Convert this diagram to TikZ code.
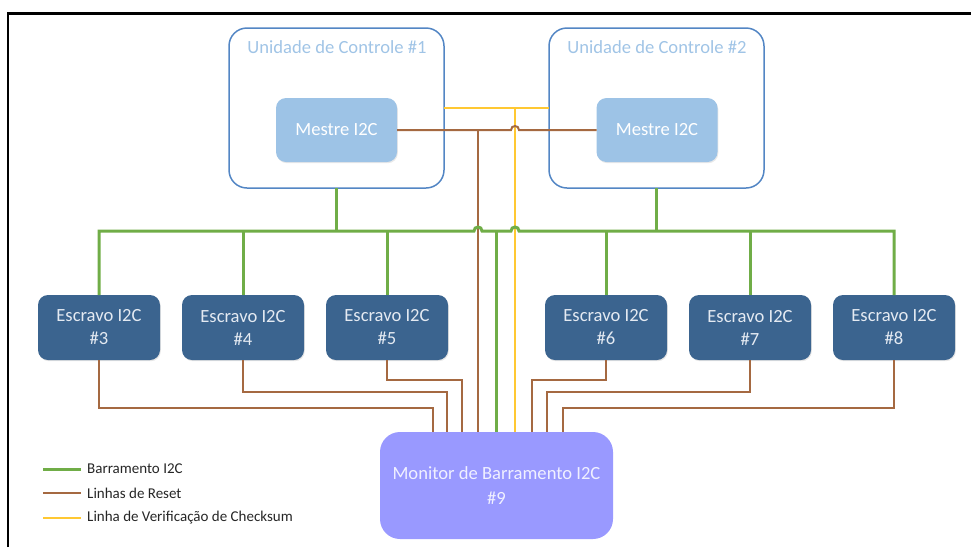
\documentclass[tikz,border=0pt]{standalone}
\usepackage{fontspec}
\setmainfont{Carlito}
\usetikzlibrary{shadows}

\definecolor{cuedge}{RGB}{83,134,196}
\definecolor{cutitle}{RGB}{160,196,230}
\definecolor{mestrefill}{RGB}{157,195,230}
\definecolor{slavefill}{RGB}{59,100,143}
\definecolor{slavetext}{RGB}{228,234,242}
\definecolor{monfill}{RGB}{153,153,255}
\definecolor{montext}{RGB}{240,240,255}
\definecolor{busgreen}{RGB}{112,173,71}
\definecolor{resetbrown}{RGB}{165,105,65}
\definecolor{chkyellow}{RGB}{255,200,50}
\definecolor{legendtext}{RGB}{38,38,38}

\begin{document}
\begin{tikzpicture}[x=1pt,y=-1pt,
  bigfont/.style={font=\fontsize{18.6}{23}\selectfont},
  unitbox/.style={draw=cuedge,line width=1.5pt,rounded corners=18pt,
    minimum width=215pt,minimum height=160pt,inner sep=0pt,outer sep=0pt},
  unittitle/.style={bigfont,text=cutitle,inner sep=0pt},
  masterbox/.style={bigfont,fill=mestrefill,text=white,rounded corners=10pt,
    minimum width=121pt,minimum height=64pt,inner sep=0pt,outer sep=0pt,
    drop shadow={opacity=0.18,shadow xshift=0.8pt,shadow yshift=-1.2pt}},
  slavebox/.style={bigfont,fill=slavefill,text=slavetext,rounded corners=10pt,
    minimum width=122pt,minimum height=65pt,inner sep=0pt,outer sep=0pt,
    align=center,
    drop shadow={opacity=0.2,shadow xshift=0.8pt,shadow yshift=-1.2pt}},
  monbox/.style={font=\fontsize{18.6}{25}\selectfont,fill=monfill,text=montext,
    rounded corners=20pt,minimum width=233pt,minimum height=107pt,
    inner sep=0pt,outer sep=0pt,align=center},
  gbus/.style={busgreen,line width=3pt},
  rst/.style={resetbrown,line width=2pt},
  chk/.style={chkyellow,line width=2pt},
  legtext/.style={font=\fontsize{15}{18}\selectfont,text=legendtext,
    inner sep=0pt,anchor=west},
  frameline/.style={black,line width=2.3pt}
]
\useasboundingbox (0,0) rectangle (971,547);

% outer frame (top and left edges only)
\coordinate (frTL) at (8,13.5);
\coordinate (frTR) at (971,13.5);
\coordinate (frBL) at (8,547);
\draw[frameline] (frBL) -- (frTL) -- (frTR);

% control units with their masters
\node[unitbox] (cu1) at (336.5,108) {};
\node[unittitle] (cu1t) at (337,47) {Unidade de Controle \#1};
\node[masterbox] (m1) at (336.5,130) {Mestre I2C};

\node[unitbox] (cu2) at (656.5,108) {};
\node[unittitle] (cu2t) at (657,47) {Unidade de Controle \#2};
\node[masterbox] (m2) at (657,130) {Mestre I2C};

% slaves
\node[slavebox] (s3) at (99,327.5)  {Escravo I2C\\\#3};
\node[slavebox] (s4) at (243,327.5) {Escravo I2C\\\#4};
\node[slavebox] (s5) at (387,327.5) {Escravo I2C\\\#5};
\node[slavebox] (s6) at (606,327.5) {Escravo I2C\\\#6};
\node[slavebox] (s7) at (750,327.5) {Escravo I2C\\\#7};
\node[slavebox] (s8) at (894,327.5) {Escravo I2C\\\#8};

% bus monitor
\node[monbox] (mon) at (496.5,485.5) {Monitor de Barramento I2C\\\#9};

% junction and entry points
\coordinate (bus) at (0,231);
\coordinate (chkT) at (515,108);
\coordinate (rstT) at (478,130);
\coordinate (in3) at (433,432);
\coordinate (in4) at (447,432);
\coordinate (in5) at (462,432);
\coordinate (inR) at (478,432);
\coordinate (inY) at (515,432);
\coordinate (in6) at (532,432);
\coordinate (in7) at (547,432);
\coordinate (in8) at (563,432);

% checksum line (drawn first, others hop over it)
\draw[chk] (cu1.east) -- (cu2.west);
\draw[chk] (chkT) -- (inY);

% reset line between masters, hopping over the checksum line
\draw[rst] (m1.east) -- (511,130)
  .. controls (511,124.7) and (519,124.7) .. (519,130) -- (m2.west);
\draw[rst] (rstT) -- (inR);

% I2C bus, hopping over the reset and checksum lines
\draw[gbus] (s3.north) -- (s3.north |- bus) -- (474,231)
  .. controls (474,225.7) and (482,225.7) .. (482,231) -- (511,231)
  .. controls (511,225.7) and (519,225.7) .. (519,231)
  -- (s8.north |- bus) -- (s8.north);
\draw[gbus] (s4.north) -- (s4.north |- bus);
\draw[gbus] (s5.north) -- (s5.north |- bus);
\draw[gbus] (s6.north) -- (s6.north |- bus);
\draw[gbus] (s7.north) -- (s7.north |- bus);
\draw[gbus] (cu1.south) -- (cu1.south |- bus);
\draw[gbus] (cu2.south) -- (cu2.south |- bus);
\draw[gbus] (mon.north |- bus) -- (mon.north);

% reset lines from slaves to the monitor
\draw[rst] (s3.south) |- (433,408) -- (in3);
\draw[rst] (s4.south) |- (447,392) -- (in4);
\draw[rst] (s5.south) |- (462,380) -- (in5);
\draw[rst] (s6.south) |- (532,380) -- (in6);
\draw[rst] (s7.south) |- (547,392) -- (in7);
\draw[rst] (s8.south) |- (563,408) -- (in8);

% legend
\coordinate (lg1a) at (43,469); \coordinate (lg1b) at (81,469);
\coordinate (lg2a) at (43,493); \coordinate (lg2b) at (81,493);
\coordinate (lg3a) at (43,518); \coordinate (lg3b) at (81,518);
\draw[gbus] (lg1a) -- (lg1b);
\draw[rst] (lg2a) -- (lg2b);
\draw[chk] (lg3a) -- (lg3b);
\node[legtext] (lg1) at (87,469) {Barramento I2C};
\node[legtext] (lg2) at (87,493) {Linhas de Reset};
\node[legtext] (lg3) at (87,518) {Linha de Verificação de Checksum};
\end{tikzpicture}
\end{document}
